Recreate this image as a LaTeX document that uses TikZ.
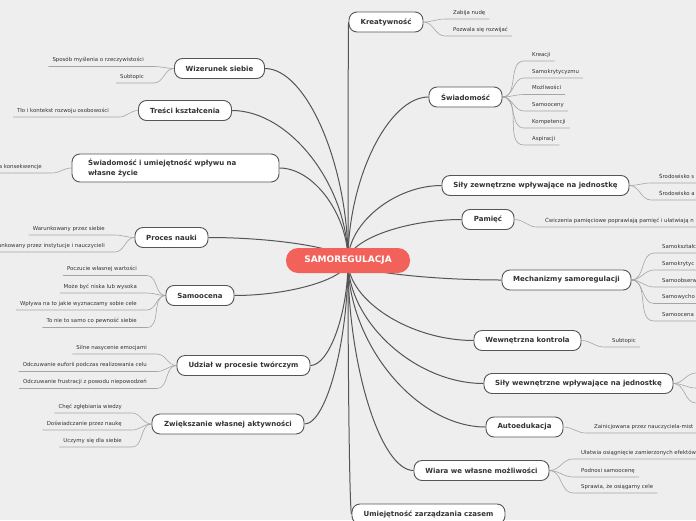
\documentclass[tikz,border=0pt]{standalone}
\usepackage{fontspec}
\setmainfont{DejaVu Sans}
\usetikzlibrary{calc}
\pgfdeclarelayer{bg}\pgfdeclarelayer{lines}\pgfsetlayers{bg,lines,main}
\definecolor{bgc}{HTML}{EEEEEE}
\definecolor{coral}{HTML}{F2625A}
\definecolor{mline}{HTML}{555555}
\definecolor{cline}{HTML}{A5A5A5}
\definecolor{txt}{HTML}{333333}
\tikzset{
 topic/.style={draw=mline, line width=0.9pt, fill=white, rounded corners=8pt, minimum height=20pt, inner xsep=3pt, inner ysep=0pt, font=\fontsize{7}{10}\selectfont\bfseries, text=txt},
 central/.style={fill=coral, rounded corners=12pt, minimum width=124pt, minimum height=25pt, font=\fontsize{9}{10}\selectfont\bfseries, text=white},
 ctext/.style={inner xsep=0pt, inner ysep=3pt, text height=4pt, text depth=1.4pt, font=\fontsize{5.4}{6}\selectfont, text=txt},
 mainline/.style={draw=mline, line width=1pt},
 subline/.style={draw=cline, line width=0.6pt},
}
\newcommand{\mconn}[1]{\draw[mainline] (hub) .. controls ($(hub)!0.5!(hub|-#1)$) and ($(#1)!0.5!(#1-|hub)$) .. (#1);}
\newcommand{\lch}[2]{\draw[subline] ([xshift=-4pt]#1.south west) -- ([xshift=10pt]#1.south east) to[out=0,in=180] (#2.west);}
\newcommand{\rch}[2]{\draw[subline] (#2.east) to[out=0,in=180] ([xshift=-8pt]#1.south west) -- ([xshift=4pt]#1.south east);}
\begin{document}
\begin{tikzpicture}[x=1pt,y=-1pt]
\begin{pgfonlayer}{bg}\fill[bgc] (0,0) rectangle (696,520);\end{pgfonlayer}
\useasboundingbox (0,0) rectangle (696,520);
% central
\node[central] (c) at (348,260.5) {SAMOREGULACJA};
\coordinate (hub) at (348,261);
% main topics
\node[topic, minimum width=74pt] (kre) at (386,22) {Kreatywność};
\node[topic, minimum width=90pt] (wiz) at (219.5,68.5) {Wizerunek siebie};
\node[topic, minimum width=93pt] (tre) at (185,110.5) {Treści kształcenia};
\node[topic, minimum width=207pt, minimum height=28pt, text width=175pt, align=left, inner xsep=16pt] (swz) at (175.5,168) {Świadomość i umiejętność wpływu na\\własne życie};
\node[topic, minimum width=73pt] (swi) at (465.5,97) {Świadomość};
\node[topic, minimum width=187pt] (sze) at (535.5,185.5) {Siły zewnętrzne wpływające na jednostkę};
\node[topic, minimum width=52pt] (pam) at (488,219.5) {Pamięć};
\node[topic, minimum width=73pt] (pro) at (171.5,237.5) {Proces nauki};
\node[topic, minimum width=68pt] (sam) at (200,295.5) {Samoocena};
\node[topic, minimum width=129pt] (mec) at (566.5,280) {Mechanizmy samoregulacji};
\node[topic, minimum width=107pt] (wew) at (527.5,340.5) {Wewnętrzna kontrola};
\node[topic, minimum width=133pt] (udz) at (243.5,365.5) {Udział w procesie twórczym};
\node[topic, minimum width=189pt] (swe) at (578.5,383.5) {Siły wewnętrzne wpływające na jednostkę};
\node[topic, minimum width=152pt] (zwi) at (228,424) {Zwiększanie własnej aktywności};
\node[topic, minimum width=77pt] (aut) at (524.5,427) {Autoedukacja};
\node[topic, minimum width=135pt] (wia) at (481.5,470.5) {Wiara we własne możliwości};
\node[topic, minimum width=153pt] (umi) at (428.5,514) {Umiejętność zarządzania czasem};
% left children
\node[ctext, anchor=south east] (w1) at (144,66.5) {Sposób myślenia o rzeczywistości};
\node[ctext, anchor=south east] (w2) at (144,83) {Subtopic};
\node[ctext, anchor=south east] (t1) at (109,117) {Tło i kontekst rozwoju osobowości};
\node[ctext, anchor=south east] (s1) at (42,173) {a konsekwencje};
\node[ctext, anchor=south east] (p1) at (105,235) {Warunkowany przez siebie};
\node[ctext, anchor=south east] (p2) at (105,252) {Warunkowany przez instytucje i nauczycieli};
\node[ctext, anchor=south east] (o1) at (137,275.5) {Poczucie własnej wartości};
\node[ctext, anchor=south east] (o2) at (137,293) {Może być niska lub wysoka};
\node[ctext, anchor=south east] (o3) at (137,310) {Wpływa na to jakie wyznaczamy sobie cele};
\node[ctext, anchor=south east] (o4) at (137,327.5) {To nie to samo co pewność siebie};
\node[ctext, anchor=south east] (u1) at (147,354) {Silne nasycenie emocjami};
\node[ctext, anchor=south east] (u2) at (147,371.5) {Odczuwanie euforii podczas realizowania celu};
\node[ctext, anchor=south east] (u3) at (147,388.5) {Odczuwanie frustracji z powodu niepowodzeń};
\node[ctext, anchor=south east] (z1) at (122,413) {Chęć zgłębiania wiedzy};
\node[ctext, anchor=south east] (z2) at (122,430) {Doświadczanie przez naukę};
\node[ctext, anchor=south east] (z3) at (122,447) {Uczymy się dla siebie};
% right children
\node[ctext, anchor=south west] (k1) at (453,19) {Zabija nudę};
\node[ctext, anchor=south west] (k2) at (453,36) {Pozwala się rozwijać};
\node[ctext, anchor=south west] (a1) at (532,61) {Kreacji};
\node[ctext, anchor=south west] (a2) at (532,78) {Samokrytycyzmu};
\node[ctext, anchor=south west] (a3) at (532,94.5) {Możliwości};
\node[ctext, anchor=south west] (a4) at (532,111) {Samooceny};
\node[ctext, anchor=south west] (a5) at (532,128) {Kompetencji};
\node[ctext, anchor=south west] (a6) at (532,145) {Aspiracji};
\node[ctext, anchor=south west] (e1) at (659,183) {Środowisko s};
\node[ctext, anchor=south west] (e2) at (659,200) {Środowisko a};
\node[ctext, anchor=south west] (m1) at (545,227) {Ćwiczenia pamięciowe poprawiają pamięć i ułatwiają n};
\node[ctext, anchor=south west] (c1) at (662,253) {Samokształc};
\node[ctext, anchor=south west] (c2) at (662,270) {Samokrytyc};
\node[ctext, anchor=south west] (c3) at (662,287) {Samoobserw};
\node[ctext, anchor=south west] (c4) at (662,303.5) {Samowycho};
\node[ctext, anchor=south west] (c5) at (662,321) {Samoocena};
\node[ctext, anchor=south west] (n1) at (612,347) {Subtopic};
\node[ctext, anchor=south west] (d1) at (594,433) {Zainicjowana przez nauczyciela-mist};
\node[ctext, anchor=south west] (f1) at (581,459) {Ułatwia osiągnięcie zamierzonych efektów};
\node[ctext, anchor=south west] (f2) at (581,477) {Podnosi samoocenę};
\node[ctext, anchor=south west] (f3) at (581,493) {Sprawia, że osiągamy cele};
\coordinate (q1) at (696,373);
\coordinate (q2) at (696,388);
\coordinate (q3) at (696,403);
\begin{pgfonlayer}{lines}
\mconn{kre.west}
\mconn{wiz.east}
\mconn{tre.east}
\mconn{swz.east}
\mconn{swi.west}
\mconn{sze.west}
\mconn{pam.west}
\mconn{pro.east}
\mconn{sam.east}
\mconn{mec.west}
\mconn{wew.west}
\mconn{udz.east}
\mconn{swe.west}
\mconn{zwi.east}
\mconn{aut.west}
\mconn{wia.west}
\mconn{umi.west}
\lch{w1}{wiz}\lch{w2}{wiz}
\lch{t1}{tre}
\lch{s1}{swz}
\lch{p1}{pro}\lch{p2}{pro}
\lch{o1}{sam}\lch{o2}{sam}\lch{o3}{sam}\lch{o4}{sam}
\lch{u1}{udz}\lch{u2}{udz}\lch{u3}{udz}
\lch{z1}{zwi}\lch{z2}{zwi}\lch{z3}{zwi}
\rch{k1}{kre}\rch{k2}{kre}
\rch{a1}{swi}\rch{a2}{swi}\rch{a3}{swi}\rch{a4}{swi}\rch{a5}{swi}\rch{a6}{swi}
\rch{e1}{sze}\rch{e2}{sze}
\rch{m1}{pam}
\rch{c1}{mec}\rch{c2}{mec}\rch{c3}{mec}\rch{c4}{mec}\rch{c5}{mec}
\rch{n1}{wew}
\rch{d1}{aut}
\rch{f1}{wia}\rch{f2}{wia}\rch{f3}{wia}
\draw[subline] (swe.east) to[out=0,in=180] (q1);
\draw[subline] (swe.east) to[out=0,in=180] (q2);
\draw[subline] (swe.east) to[out=0,in=180] (q3);
\end{pgfonlayer}
\end{tikzpicture}
\end{document}
